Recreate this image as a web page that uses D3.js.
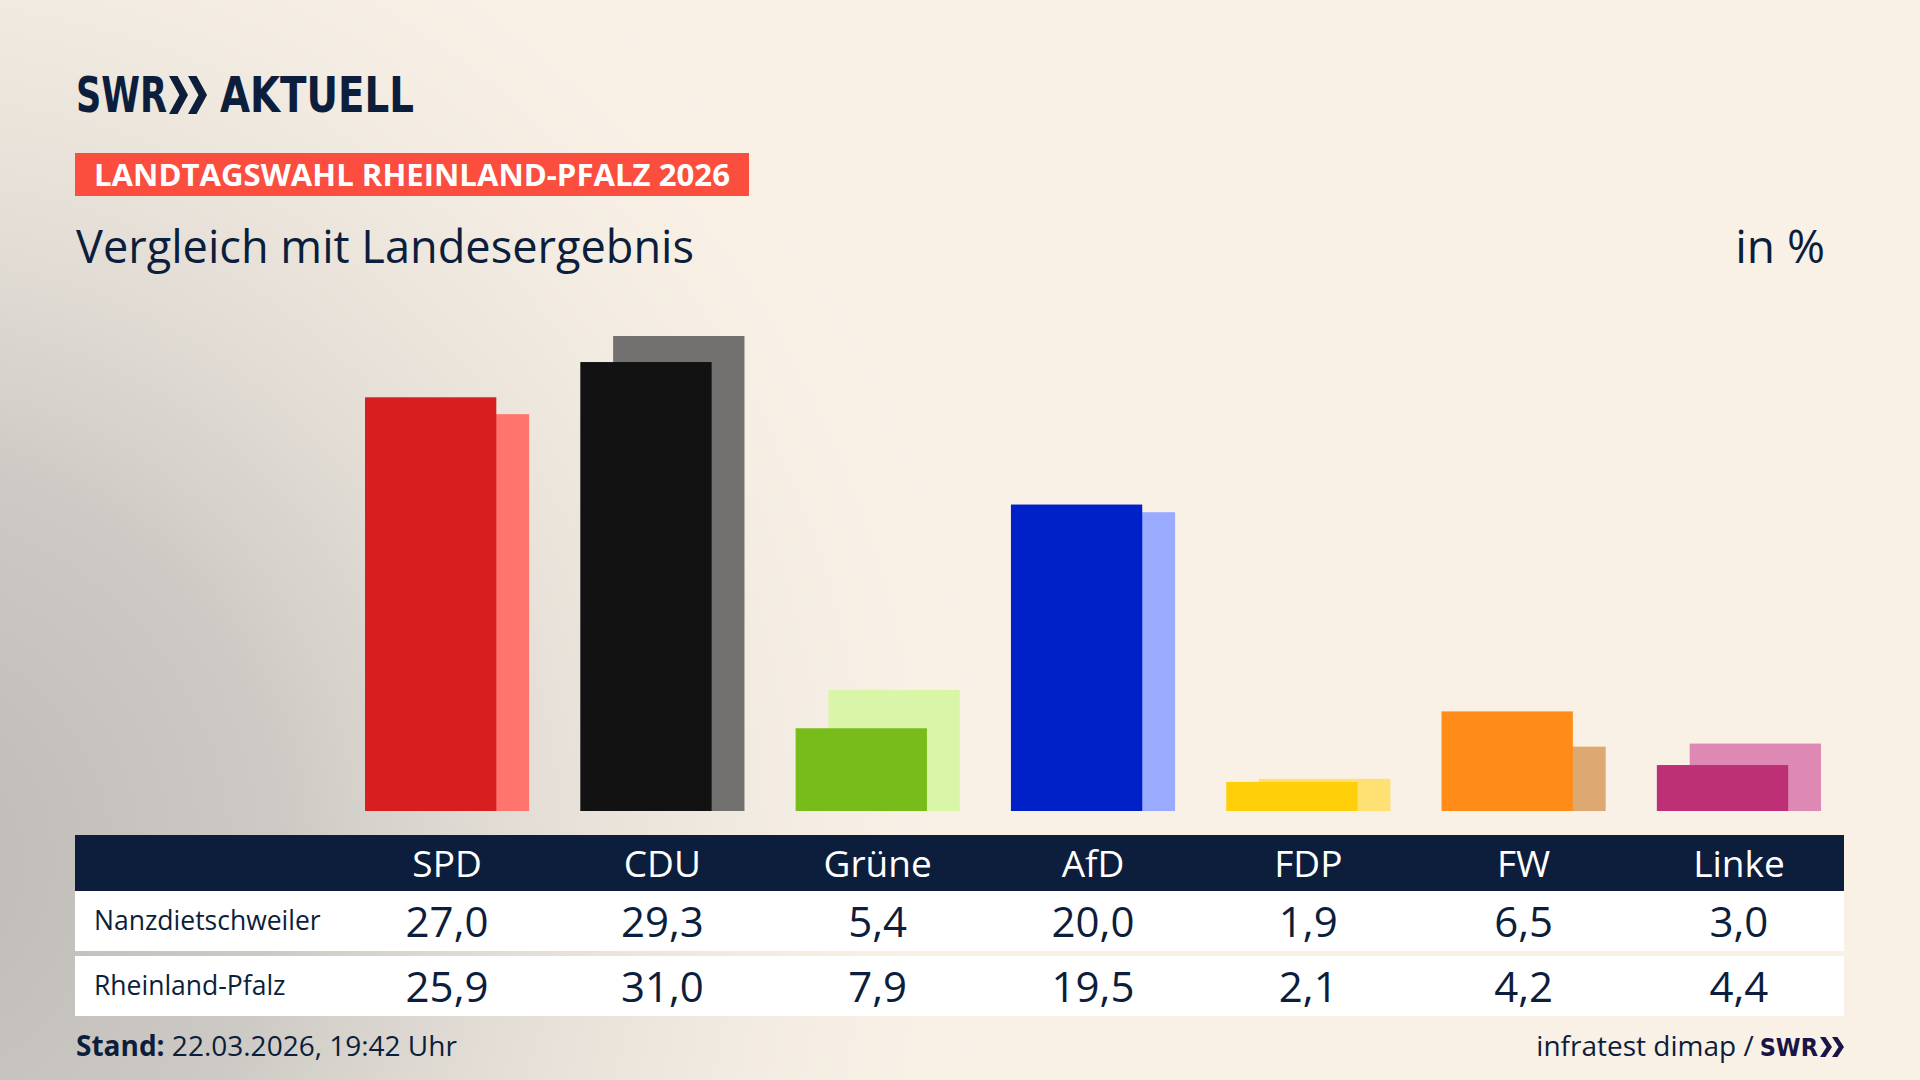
<!DOCTYPE html>
<html>
<head>
<meta charset="utf-8">
<script src="https://cdn.jsdelivr.net/npm/d3@7"></script>
<style>
  html, body { margin: 0; padding: 0; background: #f9f1e6; }
  svg { display: block; font-family: "Open Sans", "Noto Sans", sans-serif; }
</style>
</head>
<body>
<svg id="chart"></svg>
<script>
const parties = ["SPD", "CDU", "Grüne", "AfD", "FDP", "FW", "Linke"];
const gemeindeValues = [27.0, 29.3, 5.4, 20.0, 1.9, 6.5, 3.0];
const landValues = [25.9, 31.0, 7.9, 19.5, 2.1, 4.2, 4.4];
const rowLabels = ["Nanzdietschweiler", "Rheinland-Pfalz"];
const mainColors = ["#d71f1f", "#121212", "#78bc1b", "#0020c8", "#ffcf0a", "#ff8c19", "#be3075"];
const lightColors = ["#ff756d", "#73716f", "#d8f5a8", "#9aaaff", "#ffe073", "#dea872", "#de89b4"];

let width = 1920;
let height = 1080;
let navy = "#0c1e3c";

let svg = d3.select("#chart")
    .attr("width", width)
    .attr("height", height);

// background
let defs = svg.append("defs");
let grad = defs.append("radialGradient")
    .attr("id", "bgGrey")
    .attr("gradientUnits", "userSpaceOnUse")
    .attr("cx", -120).attr("cy", 860).attr("r", 1150);
grad.append("stop").attr("offset", 0).attr("stop-color", "#bcb9b5").attr("stop-opacity", 1);
grad.append("stop").attr("offset", 0.35).attr("stop-color", "#cdcac5").attr("stop-opacity", 1);
grad.append("stop").attr("offset", 0.7).attr("stop-color", "#e6e0d8").attr("stop-opacity", 0.6);
grad.append("stop").attr("offset", 1).attr("stop-color", "#f9f1e6").attr("stop-opacity", 0);

svg.append("rect").attr("width", width).attr("height", height).attr("fill", "#f9f1e6");
svg.append("rect").attr("width", width).attr("height", height).attr("fill", "url(#bgGrey)");

// chevrons helper
let chevron = (x0, y0, w, h) => {
    return `M${x0},${y0} L${x0 + w * 0.45},${y0} L${x0 + w},${y0 + h / 2} L${x0 + w * 0.45},${y0 + h} L${x0},${y0 + h} L${x0 + w * 0.55},${y0 + h / 2} Z`;
};

// logo
svg.append("text")
    .attr("x", 76).attr("y", 112)
    .attr("fill", navy)
    .style("font-family", "'DejaVu Sans Condensed', 'DejaVu Sans'")
    .style("font-stretch", "condensed")
    .style("font-weight", 700)
    .style("font-size", "50px")
    .attr("textLength", 91).attr("lengthAdjust", "spacingAndGlyphs")
    .text("SWR");
svg.append("path").attr("d", chevron(169, 76, 19, 38)).attr("fill", navy);
svg.append("path").attr("d", chevron(188, 76, 19, 38)).attr("fill", navy);
svg.append("text")
    .attr("x", 220).attr("y", 112)
    .attr("fill", navy)
    .style("font-family", "'DejaVu Sans Condensed', 'DejaVu Sans'")
    .style("font-stretch", "condensed")
    .style("font-weight", 700)
    .style("font-size", "50px")
    .attr("textLength", 194).attr("lengthAdjust", "spacingAndGlyphs")
    .text("AKTUELL");

// red label
svg.append("rect")
    .attr("x", 75).attr("y", 153)
    .attr("width", 674).attr("height", 43)
    .attr("fill", "#fb4e3e");
svg.append("text")
    .attr("x", 94).attr("y", 186)
    .attr("fill", "#ffffff")
    .style("font-weight", 700)
    .style("font-size", "30px")
    .attr("textLength", 636).attr("lengthAdjust", "spacingAndGlyphs")
    .text("LANDTAGSWAHL RHEINLAND-PFALZ 2026");

// subtitle
svg.append("text")
    .attr("x", 76).attr("y", 263)
    .attr("fill", navy)
    .style("font-size", "46px")
    .attr("textLength", 618).attr("lengthAdjust", "spacingAndGlyphs")
    .text("Vergleich mit Landesergebnis");
svg.append("text")
    .attr("x", 1825).attr("y", 263)
    .attr("text-anchor", "end")
    .attr("fill", navy)
    .style("font-size", "46px")
    .text("in %");

// scales
let xScale = d3.scaleBand()
    .domain(parties)
    .range([365, 1821])
    .paddingInner(0.2376)
    .paddingOuter(0);

let yScale = d3.scaleLinear()
    .domain([0, 31])
    .range([811, 336]);

let offset = xScale.bandwidth() * 0.2;
let barW = xScale.bandwidth() - offset;

let data = parties.map((p, i) => ({
    party: p,
    gemeinde: gemeindeValues[i],
    land: landValues[i],
    main: mainColors[i],
    light: lightColors[i]
}));

// Landesergebnis bars (behind)
svg.selectAll(".landBar")
    .data(data)
    .enter()
    .append("rect")
    .attr("class", "landBar")
    .attr("x", d => xScale(d.party) + offset)
    .attr("y", d => yScale(d.land))
    .attr("width", barW)
    .attr("height", d => yScale(0) - yScale(d.land))
    .attr("fill", d => d.light);

// Gemeinde bars (front)
svg.selectAll(".gemBar")
    .data(data)
    .enter()
    .append("rect")
    .attr("class", "gemBar")
    .attr("x", d => xScale(d.party))
    .attr("y", d => yScale(d.gemeinde))
    .attr("width", barW)
    .attr("height", d => yScale(0) - yScale(d.gemeinde))
    .attr("fill", d => d.main);

// table
let tableX = 75;
let tableW = 1769;

svg.append("rect")
    .attr("x", tableX).attr("y", 835)
    .attr("width", tableW).attr("height", 56)
    .attr("fill", navy);

svg.selectAll(".partyLabel")
    .data(parties)
    .enter()
    .append("text")
    .attr("class", "partyLabel")
    .attr("x", d => xScale(d) + xScale.bandwidth() / 2)
    .attr("y", 877)
    .attr("text-anchor", "middle")
    .attr("fill", "#ffffff")
    .style("font-size", "37px")
    .text(d => d);

let locale = d3.formatLocale({ decimal: ",", thousands: ".", grouping: [3], currency: ["", "€"] });
let fmt = locale.format(".1f");

let rows = [
    { label: rowLabels[0], values: gemeindeValues, y: 891 },
    { label: rowLabels[1], values: landValues, y: 956 }
];

rows.forEach(r => {
    svg.append("rect")
        .attr("x", tableX).attr("y", r.y)
        .attr("width", tableW).attr("height", 60)
        .attr("fill", "#ffffff");
    svg.append("text")
        .attr("x", 94).attr("y", r.y + 39)
        .attr("fill", navy)
        .style("font-size", "26.5px")
        .text(r.label);
    svg.selectAll(null)
        .data(r.values)
        .enter()
        .append("text")
        .attr("x", (d, i) => xScale(parties[i]) + xScale.bandwidth() / 2)
        .attr("y", r.y + 46)
        .attr("text-anchor", "middle")
        .attr("fill", navy)
        .style("font-size", "42px")
        .text(d => fmt(d));
});

// footer
let stand = svg.append("text")
    .attr("x", 76).attr("y", 1056)
    .attr("fill", navy)
    .style("font-size", "28px");
stand.append("tspan").style("font-weight", 700).text("Stand:");
stand.append("tspan").text(" 22.03.2026, 19:42 Uhr");

let chevW = 12;
let chevX = 1844 - 2 * chevW;
svg.append("path").attr("d", chevron(chevX, 1037, chevW, 20)).attr("fill", "#1b1446");
svg.append("path").attr("d", chevron(chevX + chevW, 1037, chevW, 20)).attr("fill", "#1b1446");

let swr = svg.append("text")
    .attr("x", chevX - 2).attr("y", 1056)
    .attr("text-anchor", "end")
    .attr("fill", "#1b1446")
    .style("font-family", "'DejaVu Sans Condensed', 'DejaVu Sans'")
    .style("font-stretch", "condensed")
    .style("font-weight", 700)
    .style("font-size", "25px")
    .text("SWR");
let swrW = swr.node().getComputedTextLength();

svg.append("text")
    .attr("x", chevX - 2 - swrW - 6).attr("y", 1056)
    .attr("text-anchor", "end")
    .attr("fill", navy)
    .style("font-size", "28px")
    .text("infratest dimap /");
</script>
</body>
</html>
